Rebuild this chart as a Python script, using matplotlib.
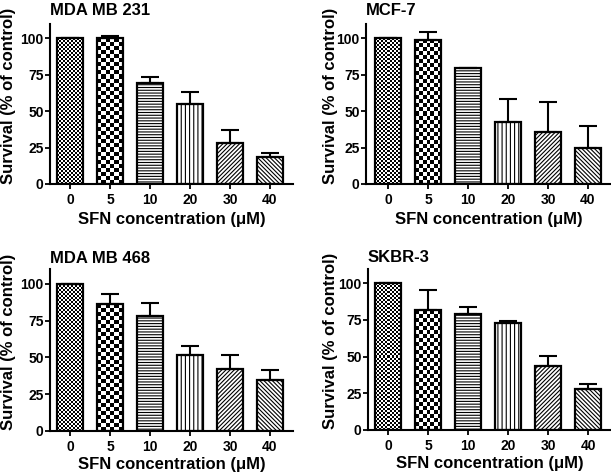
import numpy as np
import matplotlib
matplotlib.use('Agg')
import matplotlib.pyplot as plt
import matplotlib.transforms as mtransforms

plt.rcParams['font.family'] = ['Liberation Sans', 'DejaVu Sans']
plt.rcParams['font.weight'] = 'bold'
plt.rcParams['axes.labelweight'] = 'bold'
plt.rcParams['hatch.linewidth'] = 0.8

# data
conc = ['0', '5', '10', '20', '30', '40']

mda231 = [100, 100, 69.4, 54.8, 28.3, 18.3]
mda231_err = [0, 1.5, 3.9, 8.0, 8.7, 3.2]

mcf7 = [100, 99, 79.5, 42.3, 35.4, 24.4]
mcf7_err = [0, 5, 0.3, 15.9, 21.0, 15.6]

mda468 = [100, 86.3, 77.9, 51.9, 41.9, 34.4]
mda468_err = [0, 6.6, 8.9, 5.7, 10.0, 6.8]

skbr3 = [100, 81.7, 79.2, 72.8, 43.7, 28.1]
skbr3_err = [0, 14.0, 4.8, 1.6, 6.4, 3.3]

# bar fills: checker size in px, or hatch
fills = [('check', 2), ('check', 4), ('hatch', '------'), ('hatch', '||||'),
         ('hatch', '////////'), ('hatch', '\\' * 8)]

fig = plt.figure(figsize=(6.11, 4.72), dpi=100)


def checker(ax, bar, px):
    x0, y0 = bar.get_x(), bar.get_y()
    w, h = bar.get_width(), bar.get_height()
    (dx0, dy0), (dx1, dy1) = ax.transData.transform([(x0, y0), (x0 + w, y0 + h)])
    nx = max(1, int(round((dx1 - dx0) / px)))
    ny = max(1, int(round((dy1 - dy0) / px)))
    grid = np.add.outer(np.arange(ny), np.arange(nx)) % 2
    im = ax.imshow(grid, cmap='gray', extent=(x0, x0 + w, y0, y0 + h),
                   aspect='auto', interpolation='nearest', zorder=1.5)
    im.set_clip_path(bar)


def panel(rect, title, vals, errs, xlim, title_pad, ylab_off, xlab_off):
    ax = fig.add_axes(rect)
    ax.set_xlim(*xlim)
    ax.set_ylim(0, 110)
    x = np.arange(len(conc))
    bars = ax.bar(x, vals, width=0.65, color='white', edgecolor='black',
                  linewidth=0, zorder=1)
    for b, (kind, v) in zip(bars, fills):
        if kind == 'hatch':
            b.set_hatch(v)
        else:
            checker(ax, b, v)
    ax.bar(x, vals, width=0.65, color='none', edgecolor='black',
           linewidth=1.6, zorder=2)
    ax.errorbar(x, vals, yerr=[np.zeros(len(errs)), errs], fmt='none',
                ecolor='black', elinewidth=1.5, capsize=6.5, capthick=1.5,
                zorder=2.5)
    ax.set_xlim(*xlim)
    ax.set_ylim(0, 110)

    for s in ['top', 'right']:
        ax.spines[s].set_visible(False)
    for s in ['left', 'bottom']:
        ax.spines[s].set_linewidth(1.5)
    ax.set_xticks(x)
    ax.set_xticklabels(conc)
    ax.set_yticks([0, 25, 50, 75, 100])
    ax.tick_params(axis='both', direction='out', length=3.6, width=1.3,
                   labelsize=10)
    ax.tick_params(axis='y', pad=1)
    ax.tick_params(axis='x', pad=3)

    ax.set_title(title, loc='left', fontsize=12, fontweight='bold', pad=title_pad)
    ax.set_ylabel('Survival (% of control)', fontsize=12, fontweight='bold')
    ax.set_xlabel('SFN concentration (\u03bcM)', fontsize=12, fontweight='bold')
    ax.yaxis.set_label_coords(0, 0.55, transform=mtransforms.offset_copy(
        ax.transAxes, fig=fig, x=-ylab_off, y=0, units='dots'))
    ax.xaxis.set_label_coords(0.5, 0, transform=mtransforms.offset_copy(
        ax.transAxes, fig=fig, x=0, y=-xlab_off, units='dots'))
    return ax


panel([0.0818, 0.6102, 0.3977, 0.340], 'MDA MB 231', mda231, mda231_err,
      (-0.5, 5.575), 6, 34, 28)
panel([0.599, 0.6102, 0.401, 0.340], 'MCF-7', mcf7, mcf7_err,
      (-0.55, 5.575), 6, 28, 28)
panel([0.0818, 0.0869, 0.3977, 0.3426], 'MDA MB 468', mda468, mda468_err,
      (-0.5, 5.575), 4.5, 34, 26)
panel([0.6023, 0.089, 0.398, 0.342], 'SKBR-3', skbr3, skbr3_err,
      (-0.5, 5.575), 4.5, 30, 26)

plt.savefig('out.png', dpi=100)
